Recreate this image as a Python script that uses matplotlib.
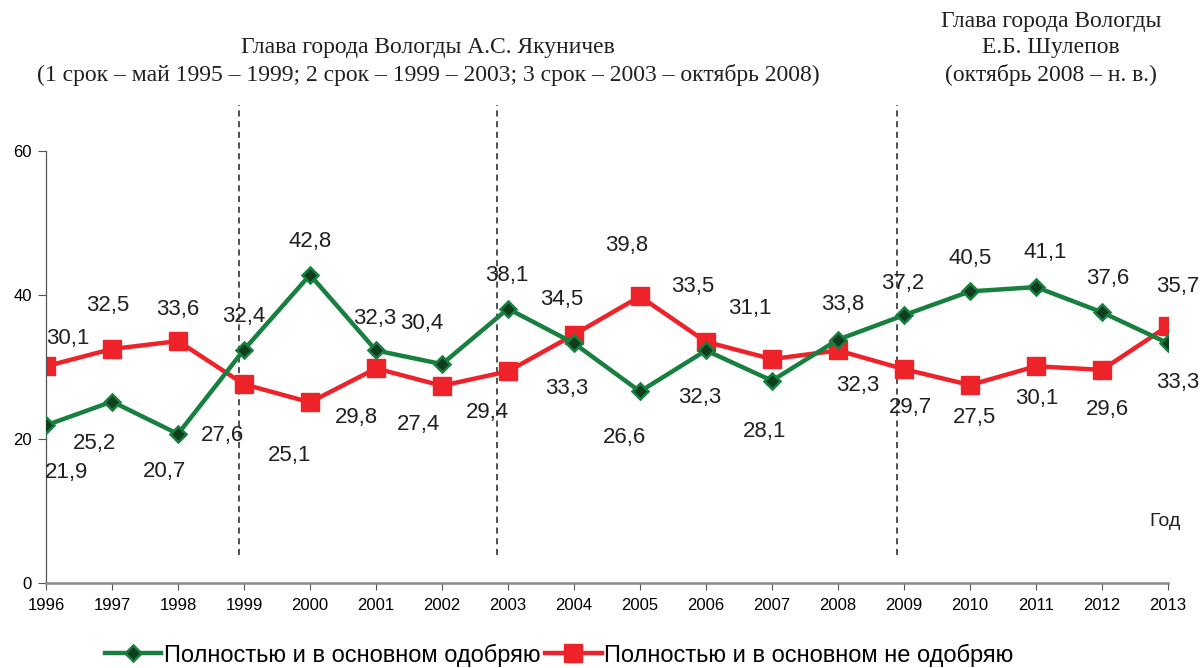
import matplotlib.pyplot as plt

# data
years = list(range(1996, 2014))
approve = [21.9, 25.2, 20.7, 32.4, 42.8, 32.3, 30.4, 38.1, 33.3, 26.6,
           32.3, 28.1, 33.8, 37.2, 40.5, 41.1, 37.6, 33.3]
disapprove = [30.1, 32.5, 33.6, 27.6, 25.1, 29.8, 27.4, 29.4, 34.5, 39.8,
              33.5, 31.1, 32.3, 29.7, 27.5, 30.1, 29.6, 35.7]
term_bounds = [1998.92, 2002.84, 2008.9]
yticks = [0, 20, 40, 60]
label_approve = 'Полностью и в основном одобряю'
label_disapprove = 'Полностью и в основном не одобряю'

# label offsets in pixels (dx, dy)
off_g = [(21, -47), (-17, -42), (-13, -38), (0, 33), (0, 33), (-1, 32),
         (-20, 41), (-1, 33), (-7, -45), (-15, -46), (-6, -47), (-7, -51),
         (5, 35), (-1, 32), (0, 33), (9, 35), (6, 34), (10, -39)]
off_r = [(22, 28), (-4, 44), (0, 32), (-21, -51), (-20, -53), (-20, -49),
         (-24, -39), (-21, -41), (-12, 35), (-13, 51), (-13, 55), (-22, 51),
         (20, -35), (6, -38), (5, -33), (1, -32), (5, -40), (10, 39)]

GREEN = '#17803F'
RED = '#EE2229'
SANS = 'Liberation Sans'
SERIF = 'Liberation Serif'
INK = '#231F20'

fig = plt.figure(figsize=(12.02, 6.68), dpi=100)
ax = fig.add_axes([46 / 1202, 1 - 583 / 668, (1168 - 46) / 1202, (583 - 151) / 668])

ax.plot(years, approve, color=GREEN, lw=3.2, marker='D', ms=8,
        mfc='#0F3D1E', mec=GREEN, mew=1.8, label=label_approve, zorder=3)
ax.plot(years, disapprove, color=RED, lw=3.2, marker='s', ms=13,
        mfc=RED, mec=RED, label=label_disapprove, zorder=2)

for x, v, (dx, dy) in zip(years, approve, off_g):
    ax.annotate(f'{v:.1f}'.replace('.', ','), (x, v), xytext=(dx, dy),
                textcoords='offset pixels', ha='center', va='center',
                fontsize=16, family=SANS, color=INK, zorder=5)
for x, v, (dx, dy) in zip(years, disapprove, off_r):
    ax.annotate(f'{v:.1f}'.replace('.', ','), (x, v), xytext=(dx, dy),
                textcoords='offset pixels', ha='center', va='center',
                fontsize=16, family=SANS, color=INK, zorder=5)

for xb in term_bounds:
    ax.plot([xb, xb], [3.9, 66.4], color=INK, lw=1.1, ls=(0, (4, 3)),
            clip_on=False, zorder=1)

ax.set_xlim(1996, 2013)
ax.set_ylim(0, 60)
ax.set_xticks(years)
ax.set_xticklabels([str(y) for y in years], family=SANS, fontsize=12)
ax.set_yticks(yticks)
ax.set_yticklabels([str(t) for t in yticks], family=SANS, fontsize=12)
ax.tick_params(axis='x', length=5, width=0.8, color='#555555', pad=6)
ax.tick_params(axis='y', length=6, width=0.8, color='#555555', pad=4)
for s in ['top', 'right']:
    ax.spines[s].set_visible(False)
ax.spines['left'].set_color('#555555')
ax.spines['left'].set_linewidth(0.9)
ax.spines['bottom'].set_color('#888888')
ax.spines['bottom'].set_linewidth(1.8)

fig.text(1165 / 1202, 1 - 522 / 668, 'Год', ha='center', va='center',
         fontsize=14, family=SANS, color=INK)

# headers
fig.text(428 / 1202, 1 - 48 / 668, 'Глава города Вологды А.С. Якуничев',
         ha='center', va='center', fontsize=17, family=SERIF, color=INK)
fig.text(428 / 1202, 1 - 75 / 668,
         '(1 срок – май 1995 – 1999; 2 срок – 1999 – 2003; 3 срок – 2003 – октябрь 2008)',
         ha='center', va='center', fontsize=17, family=SERIF, color=INK)
fig.text(1051 / 1202, 1 - 22 / 668, 'Глава города Вологды',
         ha='center', va='center', fontsize=17, family=SERIF, color=INK)
fig.text(1051 / 1202, 1 - 48 / 668, 'Е.Б. Шулепов',
         ha='center', va='center', fontsize=17, family=SERIF, color=INK)
fig.text(1051 / 1202, 1 - 75 / 668, '(октябрь 2008 – н. в.)',
         ha='center', va='center', fontsize=17, family=SERIF, color=INK)

fig.legend(loc='center', bbox_to_anchor=(559 / 1202, 1 - 655 / 668),
           ncol=2, frameon=False, handlelength=2.4, handletextpad=0.1,
           columnspacing=0.2, prop={'family': SANS, 'size': 17})

fig.savefig('out.png', dpi=100)
